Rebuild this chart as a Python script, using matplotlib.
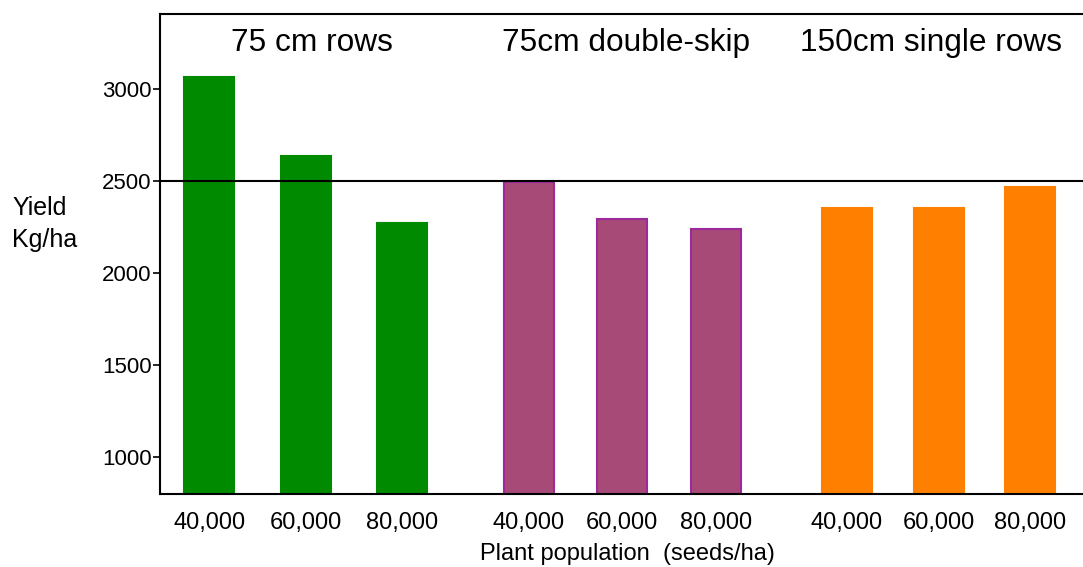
import matplotlib
matplotlib.use('Agg')
import matplotlib.pyplot as plt

plt.rcParams['font.family'] = ['Liberation Sans', 'DejaVu Sans']

# yield (kg/ha) by row spacing and plant population
groups = ['75 cm rows', '75cm double-skip', '150cm single rows']
populations = ['40,000', '60,000', '80,000']
yield_75_rows = [3065, 2640, 2272]
yield_double_skip = [2495, 2295, 2243]
yield_150_single = [2355, 2355, 2467]

series = [yield_75_rows, yield_double_skip, yield_150_single]
fills = ['#008a00', '#a84a78', '#ff8000']
edges = ['#008a00', '#9c2a9c', '#ff8000']

# bar centres within each group, and where each group title sits
group_starts = [0.0, 3.31, 6.61]
group_steps = [1.0, 0.97, 0.95]
title_x = [1.06, 4.32, 7.48]
bar_w = 0.52

fig = plt.figure(figsize=(10.83, 5.67), dpi=100)
ax = fig.add_axes([160 / 1083, 73 / 567, 935 / 1083, 480 / 567])

ymin, ymax = 800, 3410
xs_all, labels_all = [], []
for g, vals in enumerate(series):
    xs = [group_starts[g] + i * group_steps[g] for i in range(len(vals))]
    heights = [v - ymin for v in vals]
    ax.bar(xs, heights, bottom=ymin, width=bar_w, color=fills[g],
           edgecolor=edges[g], linewidth=1.5, zorder=2)
    xs_all += xs
    labels_all += populations
    ax.text(title_x[g], 3250, groups[g], ha='center', va='center', fontsize=22.8)

ax.axhline(2500, color='black', lw=1.5, zorder=3)

ax.set_xlim(-0.51, 9.18)
ax.set_ylim(ymin, ymax)
ax.set_yticks([1000, 1500, 2000, 2500, 3000])
ax.tick_params(axis='y', direction='out', length=5, width=1.2, pad=1, labelsize=16)
ax.set_xticks(xs_all)
ax.set_xticklabels(labels_all)
ax.tick_params(axis='x', length=0, pad=13, labelsize=17)

ax.spines['right'].set_visible(False)
for s in ['left', 'top', 'bottom']:
    ax.spines[s].set_linewidth(1.5)

fig.text(12 / 1083, 1 - 224 / 567, 'Yield\nKg/ha', ha='left', va='center',
         fontsize=18, linespacing=1.45)
fig.text(627 / 1083, 1 - 554 / 567, 'Plant population  (seeds/ha)',
         ha='center', va='center', fontsize=17)

fig.savefig('out.png', dpi=100)
